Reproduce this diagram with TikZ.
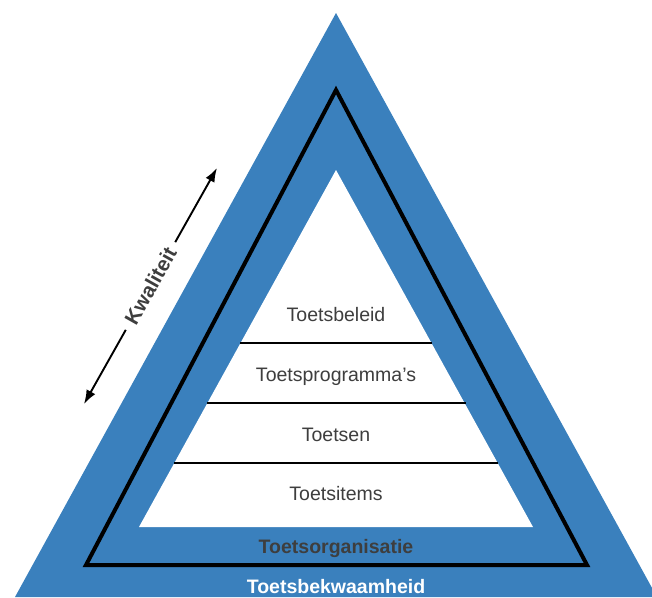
\documentclass[tikz,border=0pt]{standalone}
\usepackage{fontspec}
\setmainfont{Liberation Sans}
\usetikzlibrary{arrows.meta,calc}
\definecolor{tblue}{RGB}{58,128,189}
\definecolor{tgray}{RGB}{62,62,62}
\begin{document}
\begin{tikzpicture}[x=1pt,y=-1pt,
  layertext/.style={font=\fontsize{19.5}{22}\selectfont, text=tgray, anchor=base, inner sep=0pt},
  bandtext/.style={font=\bfseries\fontsize{19.5}{22}\selectfont, anchor=base, inner sep=0pt},
  divider/.style={line width=2pt},
  frame/.style={line width=4pt, line join=miter},
  qualline/.style={line width=1.9pt, -{Latex[length=14pt,width=10pt]}},
]
\useasboundingbox (0,0) rectangle (652,597);
% outer blue triangle
\coordinate (oA) at (336,13);
\coordinate (oL) at (15,597);
\coordinate (oR) at (657,597);
\fill[tblue] (oA) -- (oL) -- (oR) -- cycle;
% inner white triangle
\coordinate (iA) at (336,170);
\coordinate (iL) at (139,527);
\coordinate (iR) at (533,527);
\fill[white] (iA) -- (iL) -- (iR) -- cycle;
% black frame triangle
\coordinate (bA) at (336,90);
\coordinate (bL) at (86,565);
\coordinate (bR) at (587,565);
\draw[frame] (bA) -- (bL) -- (bR) -- cycle;
% dividers
\coordinate (d1l) at (240,343); \coordinate (d1r) at (432,343);
\coordinate (d2l) at (207,403); \coordinate (d2r) at (466,403);
\coordinate (d3l) at (174,463); \coordinate (d3r) at (498,463);
\draw[divider] (d1l) -- (d1r);
\draw[divider] (d2l) -- (d2r);
\draw[divider] (d3l) -- (d3r);
% layer labels
\node[layertext] (beleid) at (336,321) {Toetsbeleid};
\node[layertext] (programma) at (336,381) {Toetsprogramma’s};
\node[layertext] (toetsen) at (336,441) {Toetsen};
\node[layertext] (items) at (336,500) {Toetsitems};
\node[bandtext, text=tgray] (organisatie) at (336,553) {Toetsorganisatie};
\node[bandtext, text=white] (bekwaam) at (336,593) {Toetsbekwaamheid};
% quality arrow
\coordinate (k1) at (84,404);
\coordinate (k2) at (217,168);
\node[rotate=60.6, inner xsep=8pt, inner ysep=2pt, text=tgray, font=\bfseries\fontsize{20.5}{22}\selectfont] (kwal) at ($(k1)!0.5!(k2)$) {Kwaliteit};
\draw[qualline] (kwal) -- (k1);
\draw[qualline] (kwal) -- (k2);
\end{tikzpicture}
\end{document}
